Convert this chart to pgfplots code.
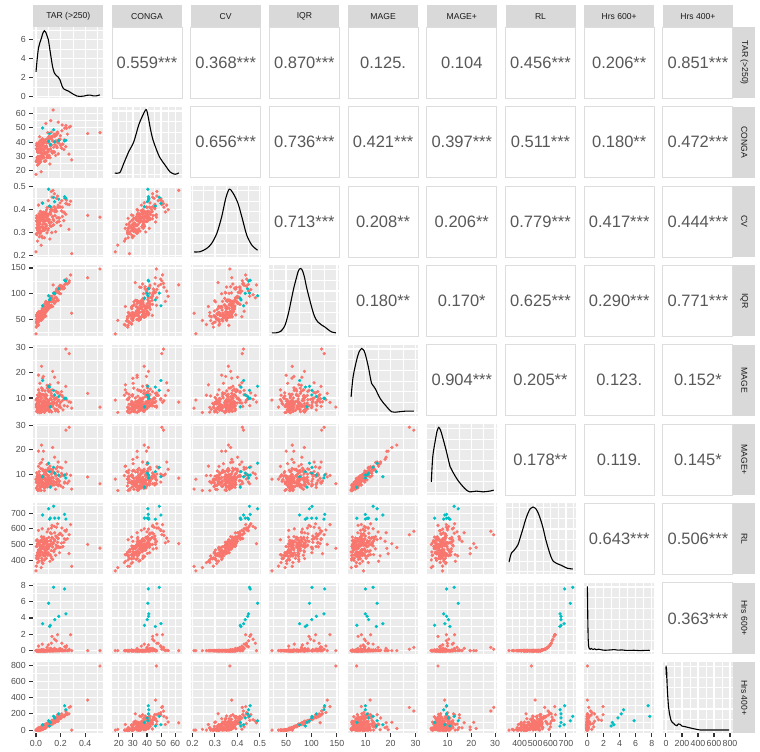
\documentclass[border=0pt]{standalone}
\usepackage{fontspec}
\setmainfont{Liberation Sans}
\usepackage{pgfplots}
\usepackage{pgfplotstable}
\pgfplotsset{compat=1.18}

\definecolor{ggbg}{HTML}{EBEBEB}
\definecolor{ggred}{HTML}{F8766D}
\definecolor{ggteal}{HTML}{00BFC4}
\definecolor{ggstrip}{HTML}{D9D9D9}
\definecolor{ggstriptext}{HTML}{1A1A1A}
\definecolor{ggtickd}{HTML}{333333}
\definecolor{ggticktext}{HTML}{4D4D4D}
\definecolor{ggcor}{HTML}{595959}
\definecolor{ggborder}{HTML}{DDDDDD}

\newcommand\tk{\fontsize{8.8bp}{10bp}\selectfont}
\newcommand\stripfont{\fontsize{8.6bp}{10bp}\selectfont}
\newcommand\corfont{\fontsize{16.5bp}{18bp}\selectfont}

% t=TAR, c=CONGA, v=CV, q=IQR, m=MAGE, p=MAGE+, r=RL, h=Hrs600+, k=Hrs400+
\pgfplotstableread{
t c v q m p r h k
0.000 17.5 0.215 22 9.2 7.9 331 0 0
0.002 26.4 0.293 35 6.4 7.9 361 0 0
0.004 37.8 0.364 56.5 4.7 4.1 524 0 5
0.005 27.3 0.295 43.6 7.5 7.8 414 0 0
0.007 39.3 0.373 59.6 6.9 4.3 487 0 12
0.009 26.6 0.362 38.5 9.4 8.9 530 0 0
0.010 37.8 0.334 58.1 6.2 7.1 425 0 10
0.012 24.0 0.262 40 11.1 9.4 384 0 0
0.014 34.2 0.352 47.8 6.8 6.8 448 0 0
0.015 33.5 0.351 63.5 4.7 3.2 500 0 22
0.017 29.2 0.321 40.9 8.7 9.7 432 0 0
0.019 39.1 0.302 55.6 8.4 7.7 464 0 7
0.020 24.6 0.318 38.7 13.2 13.2 435 0 0
0.022 34.4 0.365 63.8 5.3 3.7 511 0 24
0.024 34.3 0.316 50.6 8.8 8.4 393 0 0
0.025 34.4 0.382 65.2 6.3 8.2 517 0 28
0.027 29.7 0.281 47.7 10.8 9.4 426 0 0
0.028 27.8 0.345 58.6 4.2 3.4 452 0 15
0.030 43.8 0.360 57.8 8.5 9.1 500 0 14
0.032 30.2 0.338 53.1 15.8 14.3 427 0 5
0.034 26.2 0.298 55.2 4.8 5.1 451 0 10
0.036 40.9 0.393 58.7 10.6 7.6 524 0 17
0.038 27.8 0.323 57.6 5.5 6.5 466 0 16
0.040 35.9 0.363 54.5 8.5 7.9 467 0 10
0.042 19.3 0.244 48 4.3 3.2 352 0 9
0.044 40.3 0.370 65.3 14.0 14.8 550 0.10 33
0.046 31.9 0.360 63.3 7.0 4.9 474 0 29
0.048 35.0 0.306 52.3 5.4 5.4 398 0 8
0.050 39.0 0.387 70.4 11.4 9.2 545 0.08 44
0.052 29.7 0.277 63.4 6.3 6.9 385 0 31
0.054 30.0 0.375 61.5 17.8 16.1 520 0 28
0.056 28.9 0.308 51.2 7.7 9.2 378 0 7
0.058 40.2 0.379 72.7 6.0 5.3 541 0.07 51
0.060 29.8 0.311 60.1 11.3 11.3 432 0 26
0.062 41.7 0.389 76.1 8.2 5.5 505 0 59
0.064 29.1 0.377 55 4.7 4.5 547 0.09 17
0.066 40.3 0.349 74.9 8.0 8.7 442 0 57
0.068 26.6 0.277 56.8 4.4 3.2 401 0 22
0.070 36.7 0.367 64.6 8.6 8.5 466 0 38
0.072 36.0 0.367 80.6 6.5 4.3 519 0 70
0.074 31.8 0.337 58 10.0 10.9 451 0 25
0.076 41.6 0.318 72.7 6.7 6.1 482 0 55
0.078 27.2 0.335 56.1 11.5 11.6 454 0 23
0.080 37.0 0.381 81.2 7.1 5.4 530 0 73
0.083 37.0 0.332 68.3 5.1 5.0 411 0 48
0.086 37.1 0.400 83.5 9.7 11.3 537 0 80
0.089 32.5 0.298 66.3 7.6 6.4 445 0 46
0.092 30.6 0.363 77.8 13.9 11.6 472 0 70
0.095 46.7 0.378 77.3 6.8 7.5 520 0 69
0.098 33.2 0.356 72.9 8.7 7.7 447 0 61
0.101 29.3 0.317 75.3 5.7 6.0 473 0 67
0.104 43.9 0.412 79.1 12.5 9.3 545 0.08 75
0.107 30.9 0.342 78.3 4.6 5.7 487 0 74
0.110 39.1 0.383 75.5 7.9 7.3 490 0 70
0.113 24.7 0.271 75.1 15.2 13.3 392 0 69
0.116 43.6 0.391 86.9 6.9 8.2 574 0.27 94
0.119 35.2 0.380 85.2 9.9 7.6 498 0 91
0.122 38.3 0.327 74.5 6.8 6.7 423 0 70
0.125 42.3 0.408 92.9 9.3 7.2 569 0.22 108
0.128 33.2 0.299 86.2 4.5 5.2 410 0 95
0.131 33.4 0.397 84.6 13.2 11.8 545 0.08 93
0.135 32.4 0.330 74.9 7.1 8.6 404 0 75
0.139 62.5 0.485 117 8.4 8.3 505 0 90
0.143 33.5 0.334 85 10.7 10.8 459 0 97
0.147 45.6 0.413 101.6 8.2 5.5 533 0 131
0.151 33.0 0.401 81.1 18.2 17.0 575 0.28 91
0.155 44.3 0.374 101.6 9.5 10.1 471 0 133
0.159 30.7 0.303 84.1 4.9 3.7 431 0 99
0.163 40.9 0.393 92.5 12.6 12.2 496 0 117
0.167 40.3 0.393 109.1 8.0 5.7 549 0.10 151
0.171 36.1 0.364 87.1 5.5 6.7 482 0 108
0.176 46.1 0.346 102.7 8.7 8.0 514 0 140
0.181 31.8 0.364 87 4.6 5.2 488 0 110
0.186 41.8 0.411 113 9.2 7.4 564 0.18 163
0.191 41.9 0.363 100.7 7.2 7.0 447 0 140
0.196 42.1 0.430 116.5 11.3 12.8 572 0.25 173
0.201 37.5 0.330 99.9 6.2 5.1 482 0 141
0.207 35.8 0.395 112.3 12.5 10.3 509 0 167
0.213 52.0 0.411 112.7 8.9 9.5 558 0.14 170
0.219 38.6 0.390 109.2 5.3 4.5 487 0 164
0.226 34.9 0.352 112.8 9.4 9.4 513 0 173
0.234 49.8 0.449 118.1 9.7 6.7 588 0.47 186
0.242 36.9 0.380 118.8 14.6 15.0 531 0 189
0.255 45.6 0.424 119 6.7 6.2 537 0 193
0.268 31.7 0.314 121.6 8.5 7.1 441 0 201
0.281 51.0 0.437 136.4 8.3 9.5 627 1.95 290
0.290 27.6 0.207 62 6.0 3.8 360 0 0
0.420 46.0 0.375 131 11.8 8.8 500 0 370
0.520 46.7 0.367 148 6.4 6.0 476 0 790
0.243 51.7 0.427 120 29.3 28.2 584 0.40 235
0.270 50.5 0.422 125 27.5 29.4 562 0.17 280
0.165 45.0 0.450 105 10.0 9.5 610 1.20 160
0.100 41.0 0.440 82 9.0 8.0 598 0.70 80
0.050 38.0 0.430 66 13.0 12.0 600 0.80 40
0.175 47.0 0.460 108 12.0 13.0 632 1.95 190
0.020 36.0 0.420 55 8.0 7.0 590 0.55 10
0.130 44.0 0.455 95 7.0 6.0 622 1.75 120
0.210 48.0 0.440 115 11.0 12.5 605 0.90 200
0.090 40.0 0.410 80 15.0 14.0 580 0.40 75
0.045 38.0 0.360 62 22.5 22.0 480 0 20
0.020 33.0 0.330 50 19.0 19.5 440 0 5
0.120 55.0 0.400 95 13.0 12.0 520 0 100
0.180 54.0 0.420 105 16.0 15.0 540 0.05 150
0.080 53.0 0.390 85 11.0 10.0 510 0 70
0.003 35.4 0.350 50 7.2 6.5 487 0 0
0.006 26.7 0.320 46 9.8 10.5 428 0 0
0.011 37.9 0.352 54.5 5.6 5.0 504 0 7
0.013 34.7 0.343 53.7 8.1 8.8 449 0 5
0.016 30.1 0.317 48.6 6.6 6.0 444 0 0
0.018 27.5 0.301 45 10.2 9.1 411 0 0
0.021 33.9 0.371 57.7 7.7 7.2 516 0 16
0.023 37.0 0.321 58.9 5.2 5.9 464 0 20
0.026 25.5 0.335 47.2 12.0 11.0 435 0 0
0.029 40.5 0.363 61.3 8.9 9.8 512 0 26
0.031 33.0 0.296 57.5 6.1 4.8 445 0 16
0.033 38.2 0.371 54.5 7.0 7.6 486 0 8
0.035 26.1 0.307 51.5 9.4 8.0 433 0 0
0.037 34.6 0.351 64.3 4.9 4.4 473 0 35
0.039 41.3 0.359 61.7 11.5 12.3 522 0 28
0.041 30.0 0.355 51.9 6.5 6.9 453 0 4
0.043 33.1 0.377 66.1 8.3 7.1 518 0 40
0.047 30.7 0.284 54.9 5.5 6.3 411 0 8
0.049 37.0 0.380 64.1 10.0 8.7 492 0 35
0.051 30.8 0.326 57.7 7.4 8.1 449 0 16
0.053 42.3 0.386 69.7 13.5 12.0 533 0 50
0.055 30.3 0.335 62.3 6.3 5.0 485 0 29
0.057 30.1 0.319 61.7 8.0 8.6 431 0 28
0.059 39.3 0.364 71.5 5.8 6.2 498 0 55
0.061 34.4 0.348 62.3 9.0 9.7 440 0 29
0.063 32.8 0.353 59.9 7.1 6.4 500 0 22
0.065 39.9 0.379 74.1 10.8 11.2 510 0 63
0.067 32.0 0.309 60.7 6.0 5.3 440 0 25
0.069 33.4 0.383 73.7 8.7 8.0 535 0 62
0.071 37.3 0.319 63.1 7.3 7.9 426 0 32
0.073 35.7 0.353 70.7 12.8 11.5 510 0 53
0.077 26.7 0.315 63.1 5.9 6.5 432 0 32
0.079 36.6 0.387 74.1 8.4 7.3 525 0 63
0.082 36.3 0.325 73.8 9.6 10.3 463 0 62
0.085 39.5 0.376 71.1 6.8 6.1 482 0 54
0.088 29.3 0.353 70.8 11.0 9.6 490 0 53
0.091 42.4 0.379 79.7 7.5 8.2 500 0 78
0.094 35.2 0.371 77.2 5.4 4.7 521 0 71
0.097 33.8 0.310 69.3 8.6 9.3 431 0 49
0.100 34.3 0.379 82.4 13.0 12.4 490 0 86
0.105 34.9 0.348 72.1 6.2 7.0 500 0 57
0.109 42.1 0.356 84.9 9.1 8.5 494 0 93
0.114 29.1 0.331 73.6 7.0 6.4 435 0 61
0.118 37.2 0.389 87.6 5.0 5.6 527 0 101
0.124 37.7 0.344 78 11.8 10.9 460 0 74
0.129 43.3 0.399 91.7 8.0 8.7 543 0.08 112
0.134 32.7 0.369 86.2 6.6 5.9 484 0 97
0.140 40.6 0.358 88 10.4 11.0 511 0 102
0.145 36.5 0.351 86.1 7.8 7.0 453 0 97
0.153 38.3 0.391 91.7 5.7 6.6 524 0 112
0.161 45.6 0.404 102.5 9.9 9.2 554 0.12 143
0.169 37.2 0.344 90.9 7.2 7.9 490 0 110
0.178 39.7 0.412 105 12.2 11.0 538 0 150
0.188 39.3 0.348 101.2 6.5 5.8 480 0 139
0.198 44.5 0.412 109.2 8.2 9.0 568 0.20 162
0.215 38.7 0.370 113.5 10.5 9.8 485 0 174
0.230 41.6 0.388 110.6 7.0 6.3 536 0 166
0.248 49.7 0.442 128.4 9.3 10.0 593 0.58 216
0.060 39.6 0.348 65.2 18.5 19.5 475 0 38
0.135 41.0 0.370 86 20.5 21.0 505 0 96
0.012 33.0 0.310 50 4.4 3.6 430 0 0
0.008 29.0 0.290 42 7.9 7.0 408 0 0
0.125 47.0 0.480 92 11.0 10.0 605 0.90 110
0.150 44.0 0.470 98 9.5 10.5 615 1.40 128
}\datared

\pgfplotstableread{
t c v q m p r h k
0.054 49.9 0.428 76.5 16.9 8.9 688 3.30 66
0.103 40.6 0.490 96 14.6 14.5 728 5.80 115
0.110 45.9 0.416 88 14.3 11.0 661 2.95 50
0.116 38.2 0.413 91 6.5 4.6 668 3.10 94
0.143 48.7 0.454 101 13.0 12.8 744 7.75 170
0.152 40.2 0.435 100.6 11.2 10.4 668 3.80 150
0.185 41.1 0.446 109.6 10.6 9.6 668 4.20 200
0.232 40.9 0.457 126 9.9 9.6 692 7.55 300
0.243 41.3 0.450 124.5 9.9 8.4 662 4.50 250
}\datateal

\pgfplotsset{
  pp/.style={scale only axis, width=70bp, height=71bp, anchor=north west,
    axis line style={draw=none}, axis background/.style={fill=ggbg},
    grid=both, major grid style={white, line width=1.3bp},
    minor grid style={white, line width=0.6bp},
    tick align=outside, xtick pos=left, ytick pos=left,
    major tick length=4bp, minor tick length=0pt,
    xtick style={draw=none}, ytick style={draw=none},
    xticklabels={}, yticklabels={},
    tick label style={font=\tk, text=ggticktext},
    /pgf/number format/assume math mode=true},
  pts/.style={only marks, mark=*, mark size=1.45bp, color=#1},
  % variable ranges (x and y)
  vx1/.style={xmin=-0.022, xmax=0.547, xtick={0,0.2,0.4}, minor xtick={0.1,0.3,0.5}},
  vx2/.style={xmin=15.2, xmax=64.8, xtick={20,30,40,50,60}, minor xtick={25,35,45,55}},
  vx3/.style={xmin=0.192, xmax=0.504, xtick={0.2,0.3,0.4,0.5}, minor xtick={0.25,0.35,0.45}},
  vx4/.style={xmin=17, xmax=155, xtick={50,100,150}, minor xtick={25,75,125}},
  vx5/.style={xmin=3, xmax=31, xtick={10,20,30}, minor xtick={5,15,25}},
  vx6/.style={xmin=1.3, xmax=30.7, xtick={10,20,30}, minor xtick={5,15,25}},
  vx7/.style={xmin=308, xmax=762, xtick={400,500,600,700}, minor xtick={350,450,550,650,750}},
  vx8/.style={xmin=-0.39, xmax=8.3, xtick={0,2,4,6,8}, minor xtick={1,3,5,7}},
  vx9/.style={xmin=-38, xmax=837, xtick={0,200,400,600,800}, minor xtick={100,300,500,700}},
  vy1/.style={ymin=-0.2, ymax=7.29, ytick={0,2,4,6}, minor ytick={1,3,5,7}},
  vy2/.style={ymin=15.2, ymax=64.8, ytick={20,30,40,50,60}, minor ytick={25,35,45,55}},
  vy3/.style={ymin=0.192, ymax=0.504, ytick={0.2,0.3,0.4,0.5}, minor ytick={0.25,0.35,0.45}},
  vy4/.style={ymin=17, ymax=155, ytick={50,100,150}, minor ytick={25,75,125}},
  vy5/.style={ymin=3, ymax=31, ytick={10,20,30}, minor ytick={5,15,25}},
  vy6/.style={ymin=1.3, ymax=30.7, ytick={10,20,30}, minor ytick={5,15,25}},
  vy7/.style={ymin=308, ymax=762, ytick={400,500,600,700}, minor ytick={350,450,550,650,750}},
  vy8/.style={ymin=-0.39, ymax=8.3, ytick={0,2,4,6,8}, minor ytick={1,3,5,7}},
  vy9/.style={ymin=-38, ymax=837, ytick={0,200,400,600,800}, minor ytick={100,300,500,700}},
  dy/.style={ymin=0, ymax=1, ytick={0.04,0.34,0.64,0.94}, minor ytick={0.19,0.49,0.79}},
  % outer tick labels
  lxs/.style={xtick style={draw=ggtickd, line width=1.1bp}},
  lys/.style={ytick style={draw=ggtickd, line width=1.1bp}},
  lx1/.style={lxs, xticklabels={0.0,0.2,0.4}},
  lx2/.style={lxs, xticklabels={20,30,40,50,60}},
  lx3/.style={lxs, xticklabels={0.2,0.3,0.4,0.5}},
  lx4/.style={lxs, xticklabels={50,100,150}},
  lx5/.style={lxs, xticklabels={10,20,30}},
  lx6/.style={lxs, xticklabels={10,20,30}},
  lx7/.style={lxs, xticklabels={400,500,600,700}},
  lx8/.style={lxs, xticklabels={0,2,4,6,8}},
  lx9/.style={lxs, xticklabels={0,200,400,600,800}},
  ly1/.style={lys, yticklabels={0,2,4,6}},
  ly2/.style={lys, yticklabels={20,30,40,50,60}},
  ly3/.style={lys, yticklabels={0.2,0.3,0.4,0.5}},
  ly4/.style={lys, yticklabels={50,100,150}},
  ly5/.style={lys, yticklabels={10,20,30}},
  ly6/.style={lys, yticklabels={10,20,30}},
  ly7/.style={lys, yticklabels={400,500,600,700}},
  ly8/.style={lys, yticklabels={0,2,4,6,8}},
  ly9/.style={lys, yticklabels={0,200,400,600,800}},
}

% #1 col, #2 row, #3 x column, #4 y column, #5 extra options
\newcommand\lowpanel[5]{%
  \pgfmathsetmacro\PX{33.3+78.7*(#1-1)}%
  \pgfmathsetmacro\PY{-(27.3+79.36*(#2-1))}%
  \begin{axis}[pp, at={(\PX bp,\PY bp)}, vx#1, vy#2, #5]
    \addplot[pts=ggred] table[x=#3, y=#4] {\datared};
    \addplot[pts=ggteal] table[x=#3, y=#4] {\datateal};
  \end{axis}}

% #1 col (=row), #2 extra options, #3 plot options, #4 coordinates
\newcommand\diagpanel[4]{%
  \pgfmathsetmacro\PX{33.3+78.7*(#1-1)}%
  \pgfmathsetmacro\PY{-(27.3+79.36*(#1-1))}%
  \begin{axis}[pp, at={(\PX bp,\PY bp)}, vx#1, #2]
    \addplot[black, line width=1.1bp, no marks, #3] coordinates {#4};
  \end{axis}}

% #1 col, #2 row, #3 text
\newcommand\uppanel[3]{%
  \pgfmathsetmacro\PX{33.3+78.7*(#1-1)}%
  \pgfmathsetmacro\PY{-(27.3+79.36*(#2-1))}%
  \draw[ggborder, line width=1bp, fill=white] (\PX bp,\PY bp) rectangle ++(70bp,-71bp);
  \node[text=ggcor, font=\corfont, inner sep=0pt] at (\PX bp+35bp,\PY bp-35.5bp) {#3};}

\begin{document}
\begin{tikzpicture}
\useasboundingbox (0,0) rectangle (760bp,-752bp);

% correlation panels
\uppanel{2}{1}{0.559***}\uppanel{3}{1}{0.368***}\uppanel{4}{1}{0.870***}
\uppanel{5}{1}{0.125.}\uppanel{6}{1}{0.104}\uppanel{7}{1}{0.456***}
\uppanel{8}{1}{0.206**}\uppanel{9}{1}{0.851***}
\uppanel{3}{2}{0.656***}\uppanel{4}{2}{0.736***}\uppanel{5}{2}{0.421***}
\uppanel{6}{2}{0.397***}\uppanel{7}{2}{0.511***}\uppanel{8}{2}{0.180**}
\uppanel{9}{2}{0.472***}
\uppanel{4}{3}{0.713***}\uppanel{5}{3}{0.208**}\uppanel{6}{3}{0.206**}
\uppanel{7}{3}{0.779***}\uppanel{8}{3}{0.417***}\uppanel{9}{3}{0.444***}
\uppanel{5}{4}{0.180**}\uppanel{6}{4}{0.170*}\uppanel{7}{4}{0.625***}
\uppanel{8}{4}{0.290***}\uppanel{9}{4}{0.771***}
\uppanel{6}{5}{0.904***}\uppanel{7}{5}{0.205**}\uppanel{8}{5}{0.123.}
\uppanel{9}{5}{0.152*}
\uppanel{7}{6}{0.178**}\uppanel{8}{6}{0.119.}\uppanel{9}{6}{0.145*}
\uppanel{8}{7}{0.643***}\uppanel{9}{7}{0.506***}
\uppanel{9}{8}{0.363***}

% densities on the diagonal
\diagpanel{1}{vy1, ly1}{smooth}{(0.000,2.6)(0.01,4.0)(0.02,5.1)(0.03,5.6)(0.045,6.2)(0.058,6.75)(0.068,6.93)(0.078,6.8)(0.09,6.4)(0.1,6.0)(0.112,5.0)(0.125,3.9)(0.137,3.0)(0.15,2.45)(0.165,2.2)(0.18,2.05)(0.195,1.75)(0.21,1.15)(0.225,0.8)(0.245,0.66)(0.265,0.55)(0.285,0.38)(0.31,0.18)(0.335,0.03)(0.36,0.0)(0.39,0.04)(0.415,0.12)(0.44,0.14)(0.465,0.06)(0.49,0.06)(0.52,0.16)}
\diagpanel{2}{dy}{smooth}{(17.2,0.066)(20.7,0.07)(23.5,0.199)(27,0.363)(30.6,0.504)(34.1,0.74)(36.5,0.856)(39.3,0.96)(40.6,0.88)(42.3,0.70)(43.6,0.58)(45.1,0.48)(48.9,0.29)(52.9,0.175)(56.4,0.08)(59.9,0.048)(62.5,0.066)}
\diagpanel{3}{dy}{smooth}{(0.207,0.072)(0.233,0.074)(0.263,0.12)(0.285,0.19)(0.308,0.33)(0.33,0.565)(0.348,0.824)(0.364,0.955)(0.382,0.894)(0.402,0.762)(0.42,0.565)(0.442,0.307)(0.465,0.166)(0.49,0.096)}
\diagpanel{4}{dy}{smooth}{(22,0.05)(30,0.05)(39,0.07)(45,0.12)(49,0.18)(55,0.34)(60,0.51)(65,0.68)(69,0.79)(74,0.92)(78,0.956)(82,0.93)(86,0.838)(90,0.7)(95,0.556)(100,0.42)(104,0.32)(108,0.25)(113,0.2)(119,0.165)(126,0.134)(132,0.1)(139.5,0.063)(148,0.05)}
\diagpanel{5}{dy}{smooth}{(4.2,0.266)(5.0,0.548)(6.4,0.783)(7.4,0.9)(8.4,0.948)(9.1,0.93)(9.8,0.877)(11.1,0.689)(12.4,0.455)(13.8,0.385)(15.8,0.244)(17.9,0.149)(20.5,0.055)(23.2,0.055)(26,0.065)(29.3,0.065)}
\diagpanel{6}{dy}{smooth}{(3.2,0.187)(3.8,0.54)(4.9,0.775)(5.6,0.9)(6.3,0.954)(7.0,0.92)(7.7,0.845)(9.4,0.634)(11.1,0.399)(12.2,0.328)(14.3,0.211)(17.2,0.094)(19.3,0.046)(22.1,0.056)(24.9,0.046)(27.7,0.056)(29.4,0.07)}
\diagpanel{7}{dy}{smooth}{(331,0.175)(346,0.30)(367,0.35)(389,0.42)(405,0.53)(422,0.65)(438,0.77)(454,0.865)(470,0.93)(487,0.95)(503,0.93)(520,0.865)(536,0.77)(552,0.65)(568,0.5)(585,0.37)(601,0.26)(618,0.185)(640,0.155)(661,0.137)(683,0.115)(705,0.09)(744,0.076)}
\diagpanel{8}{dy}{}{(0,0.95)(0.03,0.75)(0.06,0.45)(0.1,0.22)(0.15,0.11)(0.22,0.08)(0.35,0.065)(0.5,0.075)(0.7,0.06)(0.9,0.07)(1.1,0.058)(1.4,0.065)(1.8,0.055)(2.2,0.05)(2.9,0.055)(3.3,0.06)(3.8,0.052)(4.3,0.055)(4.8,0.048)(5.8,0.05)(6.5,0.045)(7.6,0.05)(7.75,0.045)}
\diagpanel{9}{dy, lx9}{}{(0,0.9)(2,0.95)(4,0.82)(6,0.93)(8,0.78)(10,0.86)(14,0.7)(20,0.56)(32,0.37)(45,0.27)(62,0.186)(80,0.15)(95,0.14)(115,0.115)(137,0.106)(155,0.13)(178,0.125)(200,0.1)(240,0.092)(280,0.08)(323,0.069)(380,0.055)(427,0.045)(600,0.045)(790,0.045)}

% scatter panels
\lowpanel{1}{2}{t}{c}{ly2}
\lowpanel{1}{3}{t}{v}{ly3}
\lowpanel{1}{4}{t}{q}{ly4}
\lowpanel{1}{5}{t}{m}{ly5}
\lowpanel{1}{6}{t}{p}{ly6}
\lowpanel{1}{7}{t}{r}{ly7}
\lowpanel{1}{8}{t}{h}{ly8}
\lowpanel{1}{9}{t}{k}{ly9, lx1}
\lowpanel{2}{3}{c}{v}{}
\lowpanel{2}{4}{c}{q}{}
\lowpanel{2}{5}{c}{m}{}
\lowpanel{2}{6}{c}{p}{}
\lowpanel{2}{7}{c}{r}{}
\lowpanel{2}{8}{c}{h}{}
\lowpanel{2}{9}{c}{k}{lx2}
\lowpanel{3}{4}{v}{q}{}
\lowpanel{3}{5}{v}{m}{}
\lowpanel{3}{6}{v}{p}{}
\lowpanel{3}{7}{v}{r}{}
\lowpanel{3}{8}{v}{h}{}
\lowpanel{3}{9}{v}{k}{lx3}
\lowpanel{4}{5}{q}{m}{}
\lowpanel{4}{6}{q}{p}{}
\lowpanel{4}{7}{q}{r}{}
\lowpanel{4}{8}{q}{h}{}
\lowpanel{4}{9}{q}{k}{lx4}
\lowpanel{5}{6}{m}{p}{}
\lowpanel{5}{7}{m}{r}{}
\lowpanel{5}{8}{m}{h}{}
\lowpanel{5}{9}{m}{k}{lx5}
\lowpanel{6}{7}{p}{r}{}
\lowpanel{6}{8}{p}{h}{}
\lowpanel{6}{9}{p}{k}{lx6}
\lowpanel{7}{8}{r}{h}{}
\lowpanel{7}{9}{r}{k}{lx7}
\lowpanel{8}{9}{h}{k}{lx8}

% facet strips
\foreach \i/\lab in {1/{TAR (>250)},2/CONGA,3/CV,4/IQR,5/MAGE,6/{MAGE+},7/RL,8/{Hrs 600+},9/{Hrs 400+}}{
  \pgfmathsetmacro\SX{33.3+78.7*(\i-1)}
  \pgfmathsetmacro\SY{-(27.3+79.36*(\i-1))}
  \fill[ggstrip] (\SX bp,-5bp) rectangle ++(70bp,-22.3bp);
  \node[font=\stripfont, text=ggstriptext] at (\SX bp+35bp,-16.2bp) {\lab};
  \fill[ggstrip] (733.3bp,\SY bp) rectangle ++(22bp,-71bp);
  \node[font=\stripfont, text=ggstriptext, rotate=-90] at (744.3bp,\SY bp-35.5bp) {\lab};
}
\end{tikzpicture}
\end{document}
